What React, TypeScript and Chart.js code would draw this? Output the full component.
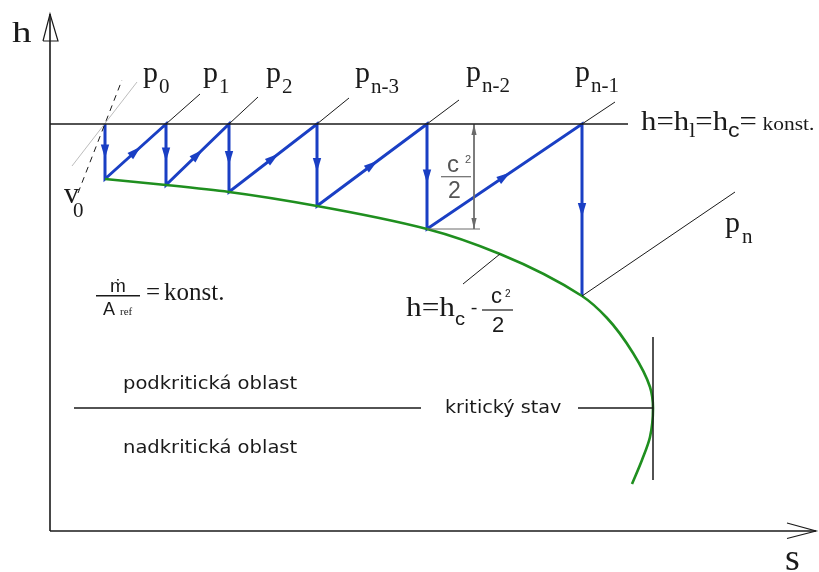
import React, { useEffect, useRef } from "react";
import { Chart, registerables } from "chart.js";

Chart.register(...registerables);

// ---------------- data (diagram units: s = entropy, h = enthalpy) ----------------
const stateS = [105, 166, 229, 317, 427, 582]; // entropy of states p0 .. p(n-1)
const totalH = 448; // h = h_l = h_c = konst.
const staticH = [393, 387, 380, 366, 343, 276]; // static enthalpy after each step

const fannoS = [105, 166, 229, 317, 427, 500, 582, 607, 633, 650, 653, 650, 642, 632];
const fannoH = [393, 387, 380, 366, 343, 318, 276, 254, 219, 185, 164, 135, 112, 88];

const isobarEndS = [200, 258, 349, 459, 615];
const isobarEndH = [478, 475, 474, 472, 470];
const lastIsobarS = [582, 735];
const lastIsobarH = [276, 380];
const p0LineS = [72, 137];
const p0LineH = [406, 490];
const v0LineS = [78, 122];
const v0LineH = [379, 492];
const leaderS = [463, 500];
const leaderH = [288, 318];

const axisOrigin = [50, 41];
const axisEnd = [816, 558];
const totalLineEndS = 628;

const criticalH = 164;
const criticalLeftS = [74, 421];
const criticalRightS = [578, 653];
const criticalVertS = 653;
const criticalVertH = [235, 92];

const dimS = 474;
const dimExtEndS = 480;

const pressureSubs = ["0", "1", "2", "n-3", "n-2", "n-1"];
const pressureLabelS = [143, 203, 266, 355, 466, 575];
const pressureLabelH = [490, 490, 490, 490, 491, 491];
const lastPressureSub = "n";

// ---------------- styles ----------------
const SERIF = '"Liberation Serif", "DejaVu Serif", serif';
const SANS = '"DejaVu Sans", sans-serif';
const NARROW = '"Liberation Sans Narrow", "Liberation Sans", sans-serif';
const BLUE = "#1a3fc4";
const GREEN = "#1f8f1f";
const INK = "#1a1a1a";
const GRAY = "#6a6a6a";

type Run = { t: string; size: number; family: string; dy?: number; dx?: number; color?: string };
type Label = { s: number; h: number; runs: Run[]; sx?: number; align?: "left" | "center" };

const pts = (xs: number[], ys: number[]) => xs.map((x, i) => ({ x, y: ys[i] }));

function seg(data: { x: number; y: number }[], color: string, width: number, extra: any = {}) {
  return {
    data,
    showLine: true,
    borderColor: color,
    backgroundColor: color,
    borderWidth: width,
    pointRadius: 0,
    pointHoverRadius: 0,
    tension: 0,
    clip: false,
    ...extra,
  };
}

function buildDatasets() {
  const ds: any[] = [];
  const [ox, oy] = axisOrigin;
  const [ex, ey] = axisEnd;
  // axes
  ds.push(seg(pts([ox, ox], [oy, ey]), INK, 1.6));
  ds.push(seg(pts([ox, ex], [oy, oy]), INK, 1.6));
  ds.push(seg(pts([ox - 7, ox, ox + 8, ox - 7], [ey - 27, ey, ey - 27, ey - 27]), INK, 1.2));
  ds.push(seg(pts([ex - 29, ex, ex - 29], [oy + 8, oy, oy - 7.5]), INK, 1.2));
  // constant total enthalpy line
  ds.push(seg(pts([ox, totalLineEndS], [totalH, totalH]), INK, 1.4));
  // isobars
  for (let i = 1; i < stateS.length; i++) {
    ds.push(seg(pts([stateS[i], isobarEndS[i - 1]], [totalH, isobarEndH[i - 1]]), INK, 1));
  }
  ds.push(seg(pts(lastIsobarS, lastIsobarH), INK, 1));
  ds.push(seg(pts(p0LineS, p0LineH), "#bdbdbd", 1));
  ds.push(seg(pts(v0LineS, v0LineH), INK, 1, { borderDash: [6, 5] }));
  ds.push(seg(pts(leaderS, leaderH), INK, 1));
  // critical state
  ds.push(seg(pts(criticalLeftS, [criticalH, criticalH]), INK, 1.5));
  ds.push(seg(pts(criticalRightS, [criticalH, criticalH]), INK, 1.5));
  ds.push(seg(pts([criticalVertS, criticalVertS], criticalVertH), INK, 1.5));
  // dimension c^2/2
  const iDim = stateS.length - 2;
  ds.push(seg(pts([dimS, dimS], [totalH, staticH[iDim]]), GRAY, 1, { arrows: { mode: "ends", len: 11, half: 2.6, color: GRAY } }));
  ds.push(seg(pts([stateS[iDim], dimExtEndS], [staticH[iDim], staticH[iDim]]), GRAY, 1));
  // fraction bars
  ds.push(seg(pts([441, 471], [395.3, 395.3]), GRAY, 1.2));
  ds.push(seg(pts([482, 513], [262, 262]), INK, 1.2));
  ds.push(seg(pts([96, 140], [276.3, 276.3]), INK, 1.4));
  // Fanno line (monotone in h -> smooth spline along the h axis)
  ds.push(
    seg(pts(fannoS, fannoH), GREEN, 2.6, {
      type: "line",
      indexAxis: "y",
      cubicInterpolationMode: "monotone",
      fill: false,
    })
  );
  // blue process path
  const bx: number[] = [];
  const by: number[] = [];
  stateS.forEach((s, i) => {
    bx.push(s, s);
    by.push(totalH, staticH[i]);
  });
  ds.push(
    seg(pts(bx, by), BLUE, 3, {
      borderJoinStyle: "miter",
      arrows: { mode: "mid", len: 14, half: 4.2, color: BLUE },
    })
  );
  return ds;
}

function buildLabels(): Label[] {
  const L: Label[] = [];
  L.push({ s: 12, h: 530, sx: 1.3, runs: [{ t: "h", size: 30, family: SERIF }] });
  L.push({ s: 785, h: 2, runs: [{ t: "s", size: 38, family: SERIF }] });
  pressureSubs.forEach((sub, i) => {
    L.push({
      s: pressureLabelS[i],
      h: pressureLabelH[i],
      runs: [
        { t: "p", size: 30, family: SERIF },
        { t: sub, size: 21, family: SERIF, dy: 11, dx: 1 },
      ],
    });
  });
  L.push({
    s: 725,
    h: 340,
    runs: [
      { t: "p", size: 30, family: SERIF },
      { t: lastPressureSub, size: 21, family: SERIF, dy: 11, dx: 2 },
    ],
  });
  L.push({ s: 64, h: 369, runs: [{ t: "v", size: 30, family: SERIF }] });
  L.push({ s: 73, h: 355, runs: [{ t: "0", size: 21, family: SERIF }] });
  L.push({
    s: 641,
    h: 442,
    sx: 1.1,
    runs: [
      { t: "h=h", size: 28, family: SERIF },
      { t: "l", size: 20, family: SERIF, dy: 7 },
      { t: "=h", size: 28, family: SERIF },
      { t: "c", size: 21, family: NARROW, dy: 7 },
      { t: "=", size: 28, family: SERIF },
      { t: "konst.", size: 19.5, family: SERIF, dx: 5 },
    ],
  });
  // mass flux
  L.push({ s: 118, h: 280, align: "center", runs: [{ t: "\u1E41", size: 19, family: NARROW }] });
  L.push({
    s: 103,
    h: 257,
    runs: [
      { t: "A", size: 18, family: NARROW },
      { t: "ref", size: 11, family: SERIF, dx: 5 },
    ],
  });
  L.push({
    s: 146,
    h: 272,
    runs: [
      { t: "=", size: 25, family: SERIF },
      { t: "konst.", size: 25, family: SERIF, dx: 4 },
    ],
  });
  // h = hc - c^2/2
  L.push({
    s: 406,
    h: 256,
    sx: 1.12,
    runs: [
      { t: "h=h", size: 28, family: SERIF },
      { t: "c", size: 18, family: NARROW, dy: 9 },
      { t: "-", size: 18, family: NARROW, dx: 5, dy: -2 },
    ],
  });
  L.push({ s: 491, h: 269, runs: [{ t: "c", size: 22, family: NARROW }] });
  L.push({ s: 505, h: 275, runs: [{ t: "2", size: 10, family: NARROW }] });
  L.push({ s: 492, h: 240, runs: [{ t: "2", size: 22, family: NARROW }] });
  // dimension fraction
  L.push({ s: 447, h: 400.3, runs: [{ t: "c", size: 24, family: NARROW, color: "#555" }] });
  L.push({ s: 465, h: 409, runs: [{ t: "2", size: 11, family: NARROW, color: "#555" }] });
  L.push({ s: 448, h: 373.7, runs: [{ t: "2", size: 23, family: NARROW, color: "#555" }] });
  // regions
  L.push({ s: 123, h: 183, sx: 1.15, runs: [{ t: "podkritická oblast", size: 17, family: SANS }] });
  L.push({ s: 123, h: 119, sx: 1.15, runs: [{ t: "nadkritická oblast", size: 17, family: SANS }] });
  L.push({ s: 445, h: 159, sx: 1.13, runs: [{ t: "kritický stav", size: 17, family: SANS }] });
  return L;
}

const arrowPlugin = {
  id: "arrowHeads",
  afterDatasetsDraw(chart: any) {
    const ctx = chart.ctx as CanvasRenderingContext2D;
    chart.data.datasets.forEach((ds: any, i: number) => {
      const spec = ds.arrows;
      if (!spec) return;
      const el = chart.getDatasetMeta(i).data as any[];
      const tri = (tx: number, ty: number, ux: number, uy: number) => {
        const bx = tx - ux * spec.len;
        const by = ty - uy * spec.len;
        ctx.beginPath();
        ctx.moveTo(tx, ty);
        ctx.lineTo(bx - uy * spec.half, by + ux * spec.half);
        ctx.lineTo(bx + uy * spec.half, by - ux * spec.half);
        ctx.closePath();
        ctx.fill();
      };
      ctx.save();
      ctx.fillStyle = spec.color;
      for (let k = 0; k + 1 < el.length; k++) {
        const a = el[k];
        const b = el[k + 1];
        const dx = b.x - a.x;
        const dy = b.y - a.y;
        const L = Math.hypot(dx, dy);
        if (!L) continue;
        const ux = dx / L;
        const uy = dy / L;
        if (spec.mode === "mid") {
          const mx = (a.x + b.x) / 2 + (ux * spec.len) / 2;
          const my = (a.y + b.y) / 2 + (uy * spec.len) / 2;
          tri(mx, my, ux, uy);
        } else {
          tri(b.x, b.y, ux, uy);
          tri(a.x, a.y, -ux, -uy);
        }
      }
      ctx.restore();
    });
  },
};

const textPlugin = {
  id: "diagramText",
  afterDatasetsDraw(chart: any) {
    const ctx = chart.ctx as CanvasRenderingContext2D;
    const xs = chart.scales.x;
    const ys = chart.scales.y;
    const labels: Label[] = chart.options.plugins.diagramText.labels;
    labels.forEach((lb) => {
      const px = xs.getPixelForValue(lb.s);
      const py = ys.getPixelForValue(lb.h);
      const sx = lb.sx || 1;
      ctx.save();
      ctx.textBaseline = "alphabetic";
      ctx.textAlign = "left";
      let total = 0;
      lb.runs.forEach((r) => {
        ctx.font = `${r.size}px ${r.family}`;
        total += (r.dx || 0) + ctx.measureText(r.t).width;
      });
      ctx.translate(px - (lb.align === "center" ? (total * sx) / 2 : 0), py);
      ctx.scale(sx, 1);
      let cx = 0;
      lb.runs.forEach((r) => {
        ctx.font = `${r.size}px ${r.family}`;
        ctx.fillStyle = r.color || INK;
        cx += r.dx || 0;
        ctx.fillText(r.t, cx, r.dy || 0);
        cx += ctx.measureText(r.t).width;
      });
      ctx.restore();
    });
  },
};

const bgPlugin = {
  id: "whiteBg",
  beforeDraw(chart: any) {
    const ctx = chart.ctx;
    ctx.save();
    ctx.fillStyle = "#ffffff";
    ctx.fillRect(0, 0, chart.width, chart.height);
    ctx.restore();
  },
};

export default function App() {
  const ref = useRef<HTMLCanvasElement>(null);
  useEffect(() => {
    if (!ref.current) return;
    const chart = new Chart(ref.current, {
      type: "scatter",
      data: { datasets: buildDatasets() },
      options: {
        animation: false,
        responsive: false,
        devicePixelRatio: 1,
        events: [],
        layout: { padding: 0 },
        scales: {
          x: { type: "linear", min: 0, max: 819, display: false },
          y: { type: "linear", min: 0, max: 572, display: false },
        },
        plugins: {
          legend: { display: false },
          tooltip: { enabled: false },
          diagramText: { labels: buildLabels() },
        } as any,
      },
      plugins: [bgPlugin, arrowPlugin, textPlugin],
    } as any);
    return () => chart.destroy();
  }, []);
  return (
    <div style={{ position: "fixed", left: 0, top: 0, width: 819, height: 572, background: "#fff" }}>
      <canvas ref={ref} width={819} height={572} style={{ display: "block", width: 819, height: 572 }} />
    </div>
  );
}
